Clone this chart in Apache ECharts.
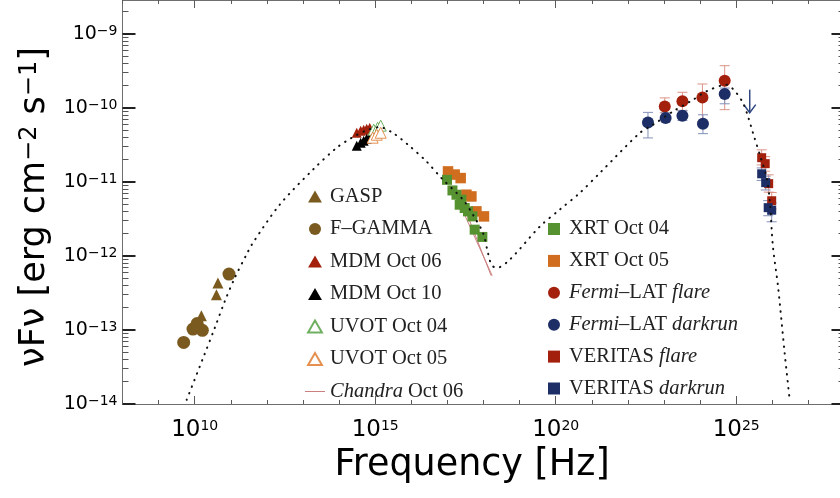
<!DOCTYPE html>
<html>
<head>
<meta charset="utf-8">
<script src="https://cdn.jsdelivr.net/npm/echarts@6/dist/echarts.min.js"></script>
<style>
  html, body { margin: 0; padding: 0; background: #fff; }
  #chart { width: 840px; height: 498px; }
</style>
</head>
<body>
<div id="chart"></div>
<script>
// ---------------- data (frequency in Hz, nuFnu in erg cm^-2 s^-1) ----------------
const gaspNu = [4.4e10, 4.0e10, 1.53e10];
const gaspF  = [4.3e-13, 3.0e-13, 1.56e-13];

const fgammaNu = [4.95e9, 8.97e9, 1.17e10, 1.63e10, 8.9e10];
const fgammaF  = [6.8e-14, 1.03e-13, 1.22e-13, 9.9e-14, 5.7e-13];

const mdm06Nu = [3.08e14, 3.96e14, 4.8e14, 5.82e14, 7.05e14];
const mdm06F  = [4.63e-11, 4.93e-11, 5.09e-11, 5.25e-11, 5.42e-11];

const mdm10Nu = [3.08e14, 3.96e14, 4.8e14, 5.82e14, 7.05e14];
const mdm10F  = [3.1e-11, 3.4e-11, 3.6e-11, 3.85e-11, 4.1e-11];

const uvot04Nu = [9.1e14, 1.17e15, 1.42e15];
const uvot04F  = [5.09e-11, 5.42e-11, 5.77e-11];

const uvot05Nu = [8.5e14, 1.1e15, 1.42e15];
const uvot05F  = [3.97e-11, 4.36e-11, 4.63e-11];

// Chandra bowtie: two edges
const chandraNuA = [2.44e17, 1.74e18];
const chandraFA  = [4.5e-12, 5.42e-13];
const chandraNuB = [3.01e17, 1.63e18];
const chandraFB  = [4.43e-12, 5.42e-13];

const xrt04Nu = [9.75e16, 1.38e17, 1.78e17, 2.44e17, 2.19e17, 3.01e17, 3.72e17, 4.93e17, 5.7e17, 9.3e17];
const xrt04F  = [1.07e-11, 7.69e-12, 6.73e-12, 5.77e-12, 4.93e-12, 4.45e-12, 4.01e-12, 3.43e-12, 2.27e-12, 1.81e-12];

const xrt05Nu = [1.04e17, 1.59e17, 2.33e17, 3.36e17, 4.62e17, 6.36e17, 1.03e18];
const xrt05F  = [1.39e-11, 1.26e-11, 1.13e-11, 6.73e-12, 6.38e-12, 4.01e-12, 3.43e-12];

const fermiFlareNu = [1.05e23, 3.24e23, 1.16e24, 4.8e24];
const fermiFlareF  = [1.05e-10, 1.23e-10, 1.39e-10, 2.34e-10];
const fermiFlareLo = [8.6e-11, 9.3e-11, 6.6e-11, 9.5e-11];
const fermiFlareHi = [1.37e-10, 1.63e-10, 2.11e-10, 3.73e-10];

const fermiDarkNu = [3.6e22, 1.11e23, 3.24e23, 1.2e24, 4.8e24];
const fermiDarkF  = [6.38e-11, 7.32e-11, 7.87e-11, 6.14e-11, 1.55e-10];
const fermiDarkLo = [3.94e-11, 6.5e-11, 6.8e-11, 4.5e-11, 1.14e-10];
const fermiDarkHi = [8.73e-11, 8.6e-11, 9.2e-11, 8.1e-11, 1.86e-10];

const fermiUlNu = [2.37e25];
const fermiUlF  = [1.77e-10];

const veritasFlareNu = [5.08e25, 6.36e25, 7.94e25, 9.62e25];
const veritasFlareF  = [2.13e-11, 1.77e-11, 9.5e-12, 5.58e-12];
const veritasFlareLo = [1.7e-11, 1.4e-11, 7.3e-12, 4.3e-12];
const veritasFlareHi = [2.72e-11, 2.2e-11, 1.25e-11, 7.2e-12];

const veritasDarkNu = [5.08e25, 6.56e25, 7.69e25, 9.62e25];
const veritasDarkF  = [1.29e-11, 9.8e-12, 4.5e-12, 4.16e-12];
const veritasDarkLo = [1.05e-11, 7.8e-12, 3.5e-12, 2.9e-12];
const veritasDarkHi = [1.55e-11, 1.2e-11, 5.6e-12, 5.2e-12];

// SSC model curve
const modelNu = [6.0e9, 1.81e10, 3.58e10, 6.78e10, 1.28e11, 2.7e11, 3.97e11, 2.26e12, 1.89e13, 8.4e13,
                 2.19e14, 6.32e14, 1.33e15, 3.11e15, 8.1e15, 2.62e16, 6.82e16, 2.7e17, 5.12e17, 9.68e17,
                 1.33e18, 1.66e18, 2.28e18, 5.32e18, 3.6e19, 1.29e20, 4.62e20, 1.66e21, 2.12e22, 4.96e22,
                 1.78e23, 6.36e23, 1.5e24, 5.36e24, 1.01e25, 1.54e25, 2.12e25, 2.92e25, 4.99e25, 6.87e25,
                 8.48e25, 1.04e26, 1.44e26, 2.2e26, 3.03e26];
const modelF  = [1.14e-14, 4.5e-14, 1.06e-13, 2.43e-13, 5.04e-13, 1.04e-12, 1.47e-12, 4.93e-12, 1.47e-11, 2.88e-11,
                 3.93e-11, 5.09e-11, 5.5e-11, 4.59e-11, 3.19e-11, 1.9e-11, 1.13e-11, 5.77e-12, 3.61e-12, 2.05e-12,
                 1.1e-12, 7.63e-13, 6.88e-13, 8.9e-13, 2.49e-12, 4.23e-12, 7.1e-12, 1.32e-11, 4.59e-11, 5.94e-11,
                 9.0e-11, 1.29e-10, 1.68e-10, 2.06e-10, 1.6e-10, 1.17e-10, 7.69e-11, 4.59e-11, 2.0e-11, 1.19e-11,
                 5.77e-12, 1.35e-12, 3.88e-13, 4.89e-14, 1.14e-14];

// axis tick labels (powers of ten)
const xLabelExp = [10, 15, 20, 25];
const yLabelExp = [-14, -13, -12, -11, -10, -9];

const legendLeftNames  = ['GASP', 'F-GAMMA', 'MDM Oct 06', 'MDM Oct 10', 'UVOT Oct 04', 'UVOT Oct 05', 'Chandra Oct 06'];
const legendRightNames = ['XRT Oct 04', 'XRT Oct 05', 'Fermi-LAT flare', 'Fermi-LAT darkrun', 'VERITAS flare', 'VERITAS darkrun'];

// ---------------- styling ----------------
const C = {
  brown: '#7a5a1f', red: '#a3200d', navy: '#1d2e66', black: '#000000',
  green: '#56922f', orange: '#d06d1f', uvGreen: '#6fb060', uvOrange: '#e59050',
  chandra: '#cc7f7f', redBar: '#dc9386', navyBar: '#8290ba', arrow: '#2f4680'
};
const X_MIN = 1e8, X_MAX = 1e28, Y_MIN = 1e-14, Y_MAX = 2.88e-9;
const pow10 = e => Number('1e' + e);

const xMajor = xLabelExp.map(pow10);
const xMinor = [];
for (let e = 8; e <= 28; e++) if (!xLabelExp.includes(e)) xMinor.push(pow10(e));
const yMajor = yLabelExp.map(pow10);
const yMinor = [];
for (let e = -14; e <= -9; e++) for (let k = 2; k <= 9; k++) { const v = k * pow10(e); if (v < Y_MAX) yMinor.push(v); }

const expOf = v => Math.round(Math.log10(v));

function xAxisDef(position, ticks, len, withLine, withLabel) {
  return {
    type: 'log', logBase: 10, position, min: X_MIN, max: X_MAX,
    axisLine: { show: withLine, onZero: false, lineStyle: { color: '#6e6e6e', width: 1 } },
    axisTick: { show: true, inside: true, length: len, customValues: ticks, lineStyle: { color: '#5a5a5a', width: 1 } },
    axisLabel: withLabel ? {
      show: true, customValues: ticks, margin: 15, color: '#000',
      formatter: v => '{b|10}{s|' + expOf(v) + '}',
      rich: {
        b: { fontFamily: 'DejaVu Sans', fontSize: 23, lineHeight: 23, verticalAlign: 'bottom', color: '#000' },
        s: { fontFamily: 'DejaVu Sans', fontSize: 14, lineHeight: 14, padding: [0, 0, 13, 0], verticalAlign: 'top', color: '#000' }
      }
    } : { show: false },
    splitLine: { show: false }, minorTick: { show: false }
  };
}
function yAxisDef(position, ticks, len, width, color, withLine, withLabel) {
  return {
    type: 'log', logBase: 10, position, min: Y_MIN, max: Y_MAX,
    axisLine: { show: withLine, onZero: false, lineStyle: { color: '#6e6e6e', width: 1 } },
    axisTick: { show: true, inside: true, length: len, customValues: ticks, lineStyle: { color, width } },
    axisLabel: withLabel ? {
      show: true, customValues: ticks, margin: 5, color: '#000',
      formatter: v => '{b|10}{s|\u2212' + Math.abs(expOf(v)) + '}',
      rich: {
        b: { fontFamily: 'DejaVu Sans', fontSize: 19, lineHeight: 19, verticalAlign: 'bottom', color: '#000' },
        s: { fontFamily: 'DejaVu Sans', fontSize: 14, lineHeight: 14, padding: [0, 0, 11, 0], verticalAlign: 'top', color: '#000' }
      }
    } : { show: false },
    splitLine: { show: false }, minorTick: { show: false }
  };
}

const pairs = (xs, ys) => xs.map((x, i) => [x, ys[i]]);

function scatter(name, nu, f, symbol, size, itemStyle) {
  return {
    type: 'scatter', name, data: pairs(nu, f), symbol, symbolSize: size,
    itemStyle: Object.assign({ opacity: 1 }, itemStyle), z: 3, silent: true,
    emphasis: { disabled: true }
  };
}

function errorBars(name, nu, lo, hi, color) {
  return {
    type: 'custom', name, z: 2, silent: true,
    data: nu.map((v, i) => [v, lo[i], hi[i]]),
    encode: { x: 0, y: [1, 2] },
    renderItem(params, api) {
      const x = api.value(0);
      const a = api.coord([x, api.value(1)]);
      const b = api.coord([x, api.value(2)]);
      const w = 5, st = { stroke: color, lineWidth: 1 };
      return { type: 'group', children: [
        { type: 'line', shape: { x1: a[0], y1: a[1], x2: b[0], y2: b[1] }, style: st },
        { type: 'line', shape: { x1: a[0] - w, y1: a[1], x2: a[0] + w, y2: a[1] }, style: st },
        { type: 'line', shape: { x1: b[0] - w, y1: b[1], x2: b[0] + w, y2: b[1] }, style: st }
      ] };
    }
  };
}

const upperLimit = {
  type: 'custom', name: 'Fermi-LAT upper limit', z: 4, silent: true,
  data: pairs(fermiUlNu, fermiUlF),
  renderItem(params, api) {
    const p = api.coord([api.value(0), api.value(1)]);
    const tip = p[1] + 23, st = { stroke: C.arrow, lineWidth: 1.5 };
    return { type: 'group', children: [
      { type: 'line', shape: { x1: p[0], y1: p[1], x2: p[0], y2: tip }, style: st },
      { type: 'polyline', shape: { points: [[p[0] - 6, tip - 8], [p[0], tip], [p[0] + 6, tip - 8]] }, style: Object.assign({ fill: null }, st) }
    ] };
  }
};

const chandraLine = (nu, f) => ({
  type: 'line', name: 'Chandra Oct 06', data: pairs(nu, f), showSymbol: false, symbol: 'none',
  lineStyle: { color: C.chandra, width: 1 }, itemStyle: { color: C.chandra }, z: 3, silent: true,
  emphasis: { disabled: true }
});

const legendText = {
  'F-GAMMA': 'F\u2013GAMMA',
  'Chandra Oct 06': '{i|Chandra} Oct 06',
  'Fermi-LAT flare': '{i|Fermi}\u2013LAT {i|flare}',
  'Fermi-LAT darkrun': '{i|Fermi}\u2013LAT {i|darkrun}',
  'VERITAS flare': 'VERITAS {i|flare}',
  'VERITAS darkrun': 'VERITAS {i|darkrun}'
};
// legend glyphs as paths so they keep their proportions inside the 20px icon box
const TRI = 'path://M6,0L12,10.4H0Z';
const SQR = 'path://M0,0H11V11H0Z';
const legendIcon = {
  'GASP': TRI, 'F-GAMMA': 'circle', 'MDM Oct 06': TRI, 'MDM Oct 10': TRI,
  'UVOT Oct 04': TRI, 'UVOT Oct 05': TRI, 'Chandra Oct 06': 'path://M0,0H20V1H0Z',
  'XRT Oct 04': SQR, 'XRT Oct 05': SQR, 'Fermi-LAT flare': 'circle', 'Fermi-LAT darkrun': 'circle',
  'VERITAS flare': SQR, 'VERITAS darkrun': SQR
};
function legendDef(names, left, top, gap) {
  return {
    orient: 'vertical', left, top, itemWidth: 20, itemHeight: 12, itemGap: gap,
    selectedMode: false, symbolKeepAspect: true,
    data: names.map(n => ({ name: n, icon: legendIcon[n] })),
    formatter: n => legendText[n] || n,
    textStyle: {
      fontFamily: 'Liberation Serif', fontSize: 20.5, lineHeight: 20, color: '#222',
      rich: { i: { fontFamily: 'Liberation Serif', fontStyle: 'italic', fontSize: 20.5, lineHeight: 20, color: '#222' } }
    }
  };
}

const chart = echarts.init(document.getElementById('chart'), null, { renderer: 'canvas' });
chart.setOption({
  animation: false,
  backgroundColor: '#fff',
  grid: { left: 122.5, top: 0, width: 722, height: 404, containLabel: false, outerBoundsMode: 'none' },
  xAxis: [
    xAxisDef('bottom', xMajor, 8, true, true),
    xAxisDef('bottom', xMinor, 4, false, false),
    xAxisDef('top', xMajor, 8, true, false),
    xAxisDef('top', xMinor, 4, false, false)
  ],
  yAxis: [
    yAxisDef('left', yMajor, 13, 2, '#222', true, true),
    yAxisDef('left', yMinor, 6, 1, '#555', false, false),
    yAxisDef('right', yMajor, 13, 2, '#222', true, false),
    yAxisDef('right', yMinor, 6, 1, '#555', false, false)
  ],
  legend: [
    legendDef(legendLeftNames, 300, 181, 11.5),
    legendDef(legendRightNames, 543, 213.5, 10.9)
  ],
  graphic: [
    {
      type: 'text', x: 35, y: 207, rotation: Math.PI / 2, silent: true,
      style: {
        text: '{b|\u03BDF\u03BD [erg cm}{s|\u22122}{b| s}{s|\u22121}{b|]}',
        align: 'center', verticalAlign: 'middle', fill: '#000',
        rich: {
          b: { fontFamily: 'DejaVu Sans', fontSize: 35, lineHeight: 35, verticalAlign: 'bottom', fill: '#000' },
          s: { fontFamily: 'DejaVu Sans', fontSize: 24, lineHeight: 24, padding: [0, 0, 21, 0], verticalAlign: 'top', fill: '#000' }
        }
      }
    },
    {
      type: 'text', x: 472, y: 466, silent: true,
      style: { text: 'Frequency [Hz]', fontFamily: 'DejaVu Sans', fontSize: 36.5, align: 'center', verticalAlign: 'middle', fill: '#000' }
    }
  ],
  series: [
    errorBars('Fermi-LAT flare bars', fermiFlareNu, fermiFlareLo, fermiFlareHi, C.redBar),
    errorBars('Fermi-LAT darkrun bars', fermiDarkNu, fermiDarkLo, fermiDarkHi, C.navyBar),
    errorBars('VERITAS flare bars', veritasFlareNu, veritasFlareLo, veritasFlareHi, C.redBar),
    errorBars('VERITAS darkrun bars', veritasDarkNu, veritasDarkLo, veritasDarkHi, C.navyBar),
    scatter('GASP', gaspNu, gaspF, 'triangle', 11, { color: C.brown }),
    scatter('F-GAMMA', fgammaNu, fgammaF, 'circle', 13, { color: C.brown }),
    scatter('MDM Oct 06', mdm06Nu, mdm06F, 'triangle', 10, { color: C.red }),
    scatter('MDM Oct 10', mdm10Nu, mdm10F, 'triangle', 10, { color: C.black }),
    scatter('UVOT Oct 04', uvot04Nu, uvot04F, 'triangle', 11, { color: '#ffffff', borderColor: C.uvGreen, borderWidth: 1 }),
    scatter('UVOT Oct 05', uvot05Nu, uvot05F, 'triangle', 11, { color: '#ffffff', borderColor: C.uvOrange, borderWidth: 1 }),
    chandraLine(chandraNuA, chandraFA),
    chandraLine(chandraNuB, chandraFB),
    scatter('XRT Oct 05', xrt05Nu, xrt05F, 'rect', 10.5, { color: C.orange }),
    scatter('XRT Oct 04', xrt04Nu, xrt04F, 'rect', 10, { color: C.green }),
    scatter('Fermi-LAT flare', fermiFlareNu, fermiFlareF, 'circle', 12, { color: C.red }),
    scatter('Fermi-LAT darkrun', fermiDarkNu, fermiDarkF, 'circle', 12, { color: C.navy }),
    scatter('VERITAS flare', veritasFlareNu, veritasFlareF, 'rect', 9, { color: C.red }),
    scatter('VERITAS darkrun', veritasDarkNu, veritasDarkF, 'rect', 9, { color: C.navy }),
    upperLimit,
    {
      type: 'line', name: 'SSC model', data: pairs(modelNu, modelF), showSymbol: false, symbol: 'none',
      smooth: 0.3, clip: true, z: 6, silent: true, emphasis: { disabled: true },
      lineStyle: { color: '#111', width: 2, type: [0.5, 6.5], cap: 'round' }
    }
  ]
});
</script>
</body>
</html>
